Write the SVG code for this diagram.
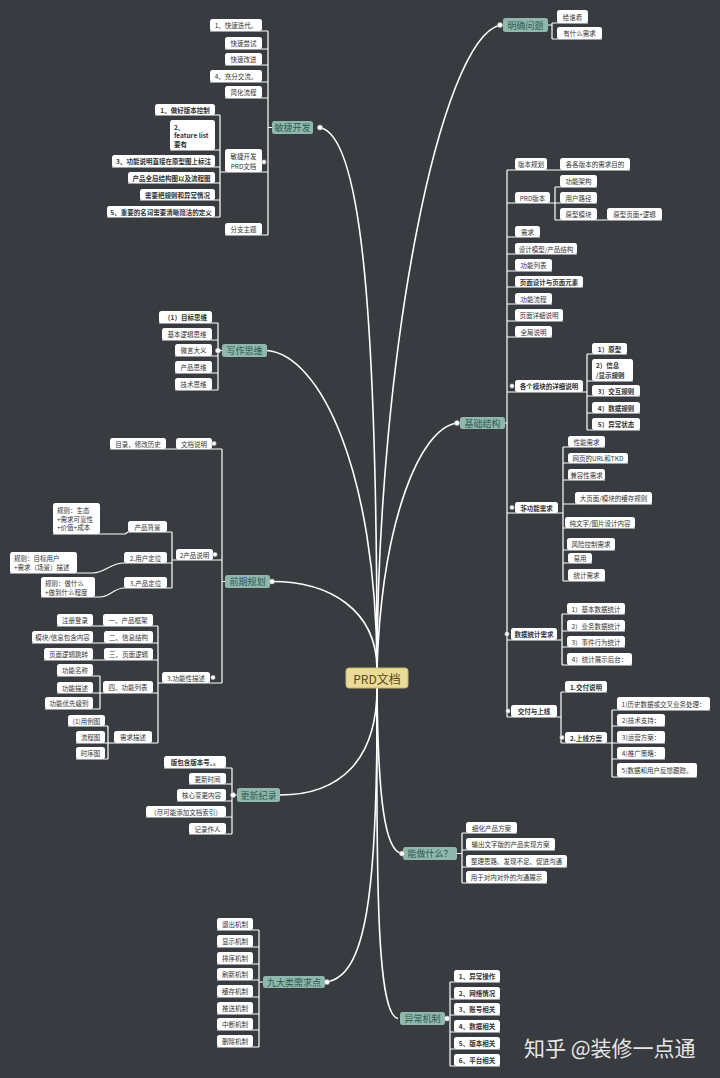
<svg xmlns="http://www.w3.org/2000/svg" width="720" height="1078" viewBox="0 0 720 1078">
<style>
.n rect{fill:#ffffff}
.n text,.m text,.c text{font-family:"Noto Sans CJK SC","Noto Sans",sans-serif;text-anchor:middle;dominant-baseline:central}
.n text{font-size:6.5px;fill:#333333}
.b text{font-weight:bold}
.lt text{text-anchor:start}
.m rect{fill:#8fb7ac}
.m text{font-size:9px;fill:#2f5a53}
.c rect{fill:#eadb9b;stroke:#c9b86a;stroke-width:1}
.c text{font-size:12px;fill:#5a4a12}
.l{fill:none;stroke:#ffffff;stroke-width:1.2;stroke-linejoin:round}
.cl{fill:none;stroke:#ffffff;stroke-width:1.6}
.d{fill:#ffffff;stroke:#9a9a9a;stroke-width:0.6}
.wm{font-family:"Noto Sans CJK SC","Noto Sans",sans-serif;font-size:21px;fill:#e6e6e6}
</style>
<rect width="720" height="1078" fill="#383b40"/>
<g id="connectors">
<path class="cl" d="M377,668 C378,350 440,40 500,25"/>
<path class="cl" d="M377,668 C377,300 360,135 320,127.5"/>
<path class="cl" d="M377,668 C382,520 420,428 457,423"/>
<path class="cl" d="M377,668 C376,470 320,355 267,350.5"/>
<path class="cl" d="M377,668 C376,610 330,581.5 272,581.5"/>
<path class="cl" d="M377,688 C377,760 340,795 280,795"/>
<path class="cl" d="M377,688 C378,800 385,852 402,853.5"/>
<path class="cl" d="M377,688 C378,900 365,975 327,982"/>
<path class="cl" d="M377,688 C376,900 378,1015 398,1018.5"/>
<path class="l" d="M548,25H552 M552,23V39 M552,23H588 M552,39H602"/>
<path class="l" d="M268,127.5H272 M268,31V235 M210,31H268 M225,49H268 M225,65H268 M210,82H268 M225,98H268 M220,172H268 M225,235H268"/>
<path class="l" d="M220,115V217 M155,115H220 M170,150H220 M112,167H220 M128,183H220 M140,200H220 M107,217H220"/>
<path class="l" d="M218,350.5H222 M218,323V390 M159,323H218 M162,340H218 M175,356H218 M175,373H218 M175,390H218"/>
<path class="l" d="M222,581.5H225 M222,449V683 M110,449H222 M172,560H222 M172,532V588 M53,534H125L128,532H172 M10,573H93C105,573 110,563 124,563H172 M41,597H100C110,597 114,588 124,588H172"/>
<path class="l" d="M158,683H222 M158,626V743 M57,626H158 M32,643H158 M44,660H158 M100,693H158 M100,676V709 M57,676H100 M57,693H100 M45,709H100 M108,743H158 M108,726V759 M68,726H108 M76,743H108 M76,759H108"/>
<path class="l" d="M232,795H237 M232,768V834 M164,768H232 M189,784H232 M177,801H232 M146,817H232 M189,834H232"/>
<path class="l" d="M457,853.5H462 M462,833V883 M462,833H517 M462,850H555 M462,867H567 M462,883H547"/>
<path class="l" d="M259,982H263 M259,930V1047 M217,930H259 M217,947H259 M217,964H259 M217,980H259 M217,997H259 M217,1014H259 M217,1030H259 M217,1047H259"/>
<path class="l" d="M445,1018.5H450 M450,982V1066 M450,982H500 M450,999H500 M450,1015H500 M450,1032H500 M450,1049H500 M450,1066H500"/>
<path class="l" d="M505,423H507 M507,170V717 M507,170H630 M507,203H555 M555,187V220 M555,187H597 M555,203H597 M555,220H662 M507,237H540 M507,254H577 M507,271H552 M507,287H583 M507,304H552 M507,321H563 M507,337H552"/>
<path class="l" d="M507,392H587 M587,354V430 M587,354H627 M587,381H633 M587,396H640 M587,413H640 M587,430H640"/>
<path class="l" d="M507,513H563 M563,447V581 M563,447H605 M563,463H628 M563,480H605 M563,504H652 M563,528H635 M563,550H615 M563,563H592 M563,581H605"/>
<path class="l" d="M507,640H562 M562,614V665 M562,614H625 M562,631H625 M562,647H625 M562,665H632"/>
<path class="l" d="M507,717H561 M561,692V743 M561,692H607 M561,743H612 M612,710V777 M612,710H710 M612,726H665 M612,743H665 M612,759H665 M612,777H697"/>
</g>
<g id="center" class="c"><rect x="346" y="668" width="62" height="20" rx="3"/><text x="377" y="678">PRD文档</text></g>

<g id="mingque" class="m"><rect x="503" y="18" width="45" height="14" rx="2.5"/><text x="525.5" y="25">明确问题</text></g>
<g id="mq1" class="n"><rect x="557" y="10" width="31" height="13" rx="2.5"/><text x="572.5" y="16.5">给谁看</text></g>
<g id="mq2" class="n"><rect x="557" y="27" width="45" height="12" rx="2.5"/><text x="579.5" y="33">有什么需求</text></g>

<g id="minjie" class="m"><rect x="272" y="121" width="41" height="13" rx="2.5"/><text x="292.5" y="127.5">敏捷开发</text></g>
<g id="mj1" class="n"><rect x="210" y="19" width="52" height="12" rx="2.5"/><text x="236" y="25">1、快速迭代。</text></g>
<g id="mj2" class="n"><rect x="225" y="37" width="37" height="12" rx="2.5"/><text x="243.5" y="43">快速尝试</text></g>
<g id="mj3" class="n"><rect x="225" y="53" width="37" height="12" rx="2.5"/><text x="243.5" y="59">快速改进</text></g>
<g id="mj4" class="n"><rect x="210" y="70" width="52" height="12" rx="2.5"/><text x="236" y="76">4、充分交流。</text></g>
<g id="mj5" class="n"><rect x="225" y="86" width="37" height="12" rx="2.5"/><text x="243.5" y="92">简化流程</text></g>
<g id="mj6" class="n"><rect x="225" y="149" width="37" height="23" rx="2.5"/><text x="243.5" y="155.5">敏捷开发</text><text x="243.5" y="165.5">PRD文档</text></g>
<g id="mj7" class="n"><rect x="225" y="223" width="37" height="12" rx="2.5"/><text x="243.5" y="229">分支主题</text></g>
<g id="mjp1" class="n b"><rect x="155" y="104" width="60" height="11" rx="2.5"/><text x="185" y="109.5">1、做好版本控制</text></g>
<g id="mjp2" class="n b lt"><rect x="170" y="120" width="45" height="30" rx="2.5"/><text x="174" y="126.5">2、</text><text x="174" y="135">feature list</text><text x="174" y="143.5">要有</text></g>
<g id="mjp3" class="n b"><rect x="112" y="155" width="103" height="12" rx="2.5"/><text x="163.5" y="161">3、功能说明直接在原型图上标注</text></g>
<g id="mjp4" class="n b"><rect x="128" y="172" width="87" height="11" rx="2.5"/><text x="171.5" y="177.5">产品全局结构图以及流程图</text></g>
<g id="mjp5" class="n b"><rect x="140" y="189" width="75" height="11" rx="2.5"/><text x="177.5" y="194.5">需要把规则和异常情况</text></g>
<g id="mjp6" class="n b"><rect x="107" y="206" width="108" height="11" rx="2.5"/><text x="161" y="211.5">5、重要的名词需要清晰简洁的定义</text></g>

<g id="xiezuo" class="m"><rect x="222" y="344" width="45" height="13" rx="2.5"/><text x="244.5" y="350.5">写作思维</text></g>
<g id="xz1" class="n b"><rect x="159" y="311" width="53" height="12" rx="2.5"/><text x="185.5" y="317">（1）目标思维</text></g>
<g id="xz2" class="n"><rect x="162" y="328" width="50" height="12" rx="2.5"/><text x="187" y="334">基本逻辑思维</text></g>
<g id="xz3" class="n"><rect x="175" y="344" width="37" height="12" rx="2.5"/><text x="193.5" y="350">微言大义</text></g>
<g id="xz4" class="n"><rect x="175" y="361" width="37" height="12" rx="2.5"/><text x="193.5" y="367">产品思维</text></g>
<g id="xz5" class="n"><rect x="175" y="378" width="37" height="12" rx="2.5"/><text x="193.5" y="384">技术思维</text></g>

<g id="qianqi" class="m"><rect x="225" y="575" width="45" height="13" rx="2.5"/><text x="247.5" y="581.5">前期规划</text></g>
<g id="qq1" class="n"><rect x="176" y="438" width="36" height="11" rx="2.5"/><text x="194" y="443.5">文档说明</text></g>
<g id="qq1a" class="n"><rect x="110" y="438" width="56" height="11" rx="2.5"/><text x="138" y="443.5">目录、修改历史</text></g>
<g id="qq2" class="n"><rect x="176" y="549" width="37" height="11" rx="2.5"/><text x="194.5" y="554.5">2产品说明</text></g>
<g id="qq2a" class="n"><rect x="128" y="521" width="39" height="11" rx="2.5"/><text x="147.5" y="526.5">产品背景</text></g>
<g id="qq2a1" class="n lt"><rect x="53" y="503" width="47" height="31" rx="2.5"/><text x="57" y="510">规则：生态</text><text x="57" y="518.5">+需求可靠性</text><text x="57" y="527">+价值+成本</text></g>
<g id="qq2b" class="n"><rect x="124" y="552" width="43" height="11" rx="2.5"/><text x="145.5" y="557.5">2.用户定位</text></g>
<g id="qq2b1" class="n lt"><rect x="10" y="552" width="67" height="21" rx="2.5"/><text x="14" y="558">规则：目标用户</text><text x="14" y="567">+需求（场景）描述</text></g>
<g id="qq2c" class="n"><rect x="124" y="577" width="43" height="11" rx="2.5"/><text x="145.5" y="582.5">3.产品定位</text></g>
<g id="qq2c1" class="n lt"><rect x="41" y="577" width="54" height="20" rx="2.5"/><text x="45" y="583">规则：做什么</text><text x="45" y="591.5">+做到什么程度</text></g>
<g id="qq3" class="n"><rect x="162" y="672" width="48" height="11" rx="2.5"/><text x="186" y="677.5">3.功能性描述</text></g>
<g id="qq3a" class="n"><rect x="103" y="614" width="50" height="12" rx="2.5"/><text x="128" y="620">一、产品框架</text></g>
<g id="qq3a1" class="n"><rect x="57" y="614" width="36" height="12" rx="2.5"/><text x="75" y="620">注册登录</text></g>
<g id="qq3b" class="n"><rect x="104" y="631" width="49" height="12" rx="2.5"/><text x="128.5" y="637">二、信息结构</text></g>
<g id="qq3b1" class="n"><rect x="32" y="631" width="61" height="12" rx="2.5"/><text x="62.5" y="637">模块/信息包含内容</text></g>
<g id="qq3c" class="n"><rect x="104" y="648" width="49" height="12" rx="2.5"/><text x="128.5" y="654">三、页面逻辑</text></g>
<g id="qq3c1" class="n"><rect x="44" y="648" width="49" height="12" rx="2.5"/><text x="68.5" y="654">页面逻辑跳转</text></g>
<g id="qq3d" class="n"><rect x="103" y="681" width="50" height="12" rx="2.5"/><text x="128" y="687">四、功能列表</text></g>
<g id="qq3d1" class="n"><rect x="57" y="664" width="36" height="12" rx="2.5"/><text x="75" y="670">功能名称</text></g>
<g id="qq3d2" class="n"><rect x="57" y="682" width="36" height="11" rx="2.5"/><text x="75" y="687.5">功能描述</text></g>
<g id="qq3d3" class="n"><rect x="45" y="697" width="48" height="12" rx="2.5"/><text x="69" y="703">功能优先级别</text></g>
<g id="qq3e" class="n"><rect x="114" y="731" width="38" height="12" rx="2.5"/><text x="133" y="737">需求描述</text></g>
<g id="qq3e1" class="n"><rect x="68" y="715" width="37" height="11" rx="2.5"/><text x="86.5" y="720.5">(1)用例图</text></g>
<g id="qq3e2" class="n"><rect x="76" y="731" width="29" height="12" rx="2.5"/><text x="90.5" y="737">流程图</text></g>
<g id="qq3e3" class="n"><rect x="76" y="747" width="29" height="12" rx="2.5"/><text x="90.5" y="753">时序图</text></g>

<g id="gengxin" class="m"><rect x="237" y="788" width="43" height="14" rx="2.5"/><text x="258.5" y="795">更新纪录</text></g>
<g id="gx1" class="n b"><rect x="164" y="756" width="62" height="12" rx="2.5"/><text x="195" y="762">版包含版本号、。</text></g>
<g id="gx2" class="n"><rect x="189" y="773" width="37" height="11" rx="2.5"/><text x="207.5" y="778.5">更新时间</text></g>
<g id="gx3" class="n"><rect x="177" y="789" width="49" height="12" rx="2.5"/><text x="201.5" y="795">核心变更内容</text></g>
<g id="gx4" class="n"><rect x="146" y="806" width="80" height="11" rx="2.5"/><text x="186" y="811.5">（尽可能添加文档索引）</text></g>
<g id="gx5" class="n"><rect x="189" y="823" width="37" height="11" rx="2.5"/><text x="207.5" y="828.5">记录作人</text></g>

<g id="nengzuo" class="m"><rect x="403" y="847" width="54" height="13" rx="2.5"/><text x="430" y="853.5">能做什么？</text></g>
<g id="nz1" class="n"><rect x="466" y="822" width="51" height="11" rx="2.5"/><text x="491.5" y="827.5">细化产品方案</text></g>
<g id="nz2" class="n"><rect x="466" y="838" width="89" height="12" rx="2.5"/><text x="510.5" y="844">输出文字版的产品实现方案</text></g>
<g id="nz3" class="n"><rect x="466" y="855" width="101" height="12" rx="2.5"/><text x="516.5" y="861">整理思路、发现不足、促进沟通</text></g>
<g id="nz4" class="n"><rect x="466" y="871" width="81" height="12" rx="2.5"/><text x="506.5" y="877">用于对内对外的沟通展示</text></g>

<g id="jiuda" class="m"><rect x="263" y="976" width="62" height="12" rx="2.5"/><text x="294" y="982">九大类需求点</text></g>
<g id="jd1" class="n"><rect x="217" y="918" width="36" height="12" rx="2.5"/><text x="235" y="924">退出机制</text></g>
<g id="jd2" class="n"><rect x="217" y="935" width="36" height="12" rx="2.5"/><text x="235" y="941">显示机制</text></g>
<g id="jd3" class="n"><rect x="217" y="952" width="36" height="12" rx="2.5"/><text x="235" y="958">排序机制</text></g>
<g id="jd4" class="n"><rect x="217" y="968" width="36" height="12" rx="2.5"/><text x="235" y="974">刷新机制</text></g>
<g id="jd5" class="n"><rect x="217" y="985" width="36" height="12" rx="2.5"/><text x="235" y="991">缓存机制</text></g>
<g id="jd6" class="n"><rect x="217" y="1002" width="36" height="12" rx="2.5"/><text x="235" y="1008">推送机制</text></g>
<g id="jd7" class="n"><rect x="217" y="1018" width="36" height="12" rx="2.5"/><text x="235" y="1024">中断机制</text></g>
<g id="jd8" class="n"><rect x="217" y="1035" width="36" height="12" rx="2.5"/><text x="235" y="1041">删除机制</text></g>

<g id="yichang" class="m"><rect x="400" y="1012" width="45" height="13" rx="2.5"/><text x="422.5" y="1018.5">异常机制</text></g>
<g id="yc1" class="n b"><rect x="454" y="970" width="46" height="12" rx="2.5"/><text x="477" y="976">1、异常操作</text></g>
<g id="yc2" class="n b"><rect x="454" y="987" width="46" height="12" rx="2.5"/><text x="477" y="993">2、网络情况</text></g>
<g id="yc3" class="n b"><rect x="454" y="1003" width="46" height="12" rx="2.5"/><text x="477" y="1009">3、账号相关</text></g>
<g id="yc4" class="n b"><rect x="454" y="1020" width="46" height="12" rx="2.5"/><text x="477" y="1026">4、数据相关</text></g>
<g id="yc5" class="n b"><rect x="454" y="1037" width="46" height="12" rx="2.5"/><text x="477" y="1043">5、版本相关</text></g>
<g id="yc6" class="n b"><rect x="454" y="1054" width="46" height="12" rx="2.5"/><text x="477" y="1060">6、平台相关</text></g>

<g id="jichu" class="m"><rect x="460" y="417" width="45" height="12" rx="2.5"/><text x="482.5" y="423">基础结构</text></g>
<g id="jc1" class="n"><rect x="515" y="158" width="32" height="12" rx="2.5"/><text x="531" y="164">版本规划</text></g>
<g id="jc1a" class="n"><rect x="560" y="158" width="70" height="12" rx="2.5"/><text x="595" y="164">各各版本的需求目的</text></g>
<g id="jc2" class="n"><rect x="515" y="192" width="35" height="11" rx="2.5"/><text x="532.5" y="197.5">PRD版本</text></g>
<g id="jc2a" class="n"><rect x="560" y="175" width="37" height="12" rx="2.5"/><text x="578.5" y="181">功能架构</text></g>
<g id="jc2b" class="n"><rect x="560" y="192" width="37" height="11" rx="2.5"/><text x="578.5" y="197.5">用户路径</text></g>
<g id="jc2c" class="n"><rect x="560" y="208" width="37" height="12" rx="2.5"/><text x="578.5" y="214">原型模块</text></g>
<g id="jc2c1" class="n"><rect x="607" y="208" width="55" height="12" rx="2.5"/><text x="634.5" y="214">原型页面+逻辑</text></g>
<g id="jc3" class="n"><rect x="515" y="226" width="25" height="11" rx="2.5"/><text x="527.5" y="231.5">需求</text></g>
<g id="jc4" class="n"><rect x="515" y="243" width="62" height="11" rx="2.5"/><text x="546" y="248.5">设计模型/产品结构</text></g>
<g id="jc5" class="n"><rect x="515" y="259" width="37" height="12" rx="2.5"/><text x="533.5" y="265">功能列表</text></g>
<g id="jc6" class="n b"><rect x="515" y="276" width="68" height="11" rx="2.5"/><text x="549" y="281.5">页面设计与页面元素</text></g>
<g id="jc7" class="n"><rect x="515" y="293" width="37" height="11" rx="2.5"/><text x="533.5" y="298.5">功能流程</text></g>
<g id="jc8" class="n"><rect x="515" y="309" width="48" height="12" rx="2.5"/><text x="539" y="315">页面详细说明</text></g>
<g id="jc9" class="n"><rect x="515" y="326" width="37" height="11" rx="2.5"/><text x="533.5" y="331.5">全局说明</text></g>
<g id="jc10" class="n b"><rect x="515" y="380" width="68" height="12" rx="2.5"/><text x="549" y="386">各个模块的详细说明</text></g>
<g id="jc10a" class="n b"><rect x="592" y="343" width="35" height="11" rx="2.5"/><text x="609.5" y="348.5">1）原型</text></g>
<g id="jc10b" class="n b lt"><rect x="592" y="359" width="41" height="22" rx="2.5"/><text x="596" y="365">2）信息</text><text x="596" y="374.5">/显示规则</text></g>
<g id="jc10c" class="n b"><rect x="592" y="385" width="48" height="11" rx="2.5"/><text x="616" y="390.5">3）交互规则</text></g>
<g id="jc10d" class="n b"><rect x="592" y="402" width="48" height="11" rx="2.5"/><text x="616" y="407.5">4）数据规则</text></g>
<g id="jc10e" class="n b"><rect x="592" y="418" width="48" height="12" rx="2.5"/><text x="616" y="424">5）异常状态</text></g>
<g id="jc11" class="n b"><rect x="515" y="502" width="43" height="11" rx="2.5"/><text x="536.5" y="507.5">非功能需求</text></g>
<g id="jc11a" class="n"><rect x="568" y="436" width="37" height="11" rx="2.5"/><text x="586.5" y="441.5">性能需求</text></g>
<g id="jc11b" class="n"><rect x="568" y="453" width="60" height="10" rx="2.5"/><text x="598" y="458">网页的URL和TKD</text></g>
<g id="jc11c" class="n"><rect x="568" y="469" width="37" height="11" rx="2.5"/><text x="586.5" y="474.5">兼容性需求</text></g>
<g id="jc11d" class="n"><rect x="575" y="492" width="77" height="12" rx="2.5"/><text x="613.5" y="498">大页面/模块的缓存规则</text></g>
<g id="jc11e" class="n"><rect x="565" y="517" width="70" height="11" rx="2.5"/><text x="600" y="522.5">纯文字/图片设计内容</text></g>
<g id="jc11f" class="n"><rect x="567" y="538" width="48" height="12" rx="2.5"/><text x="591" y="544">风险控制需求</text></g>
<g id="jc11g" class="n"><rect x="568" y="553" width="24" height="10" rx="2.5"/><text x="580" y="558">易用</text></g>
<g id="jc11h" class="n"><rect x="568" y="569" width="37" height="12" rx="2.5"/><text x="586.5" y="575">统计需求</text></g>
<g id="jc12" class="n b"><rect x="511" y="628" width="46" height="12" rx="2.5"/><text x="534" y="634">数据统计需求</text></g>
<g id="jc12a" class="n"><rect x="567" y="603" width="58" height="11" rx="2.5"/><text x="596" y="608.5">1）基本数据统计</text></g>
<g id="jc12b" class="n"><rect x="567" y="620" width="58" height="11" rx="2.5"/><text x="596" y="625.5">2）业务数据统计</text></g>
<g id="jc12c" class="n"><rect x="567" y="636" width="58" height="11" rx="2.5"/><text x="596" y="641.5">3）事件行为统计</text></g>
<g id="jc12d" class="n"><rect x="567" y="653" width="65" height="12" rx="2.5"/><text x="599.5" y="659">4）统计展示后台：</text></g>
<g id="jc13" class="n b"><rect x="511" y="705" width="46" height="12" rx="2.5"/><text x="534" y="711">交付与上线</text></g>
<g id="jc13a" class="n b"><rect x="565" y="681" width="42" height="11" rx="2.5"/><text x="586" y="686.5">1.交付说明</text></g>
<g id="jc13b" class="n b"><rect x="565" y="732" width="42" height="11" rx="2.5"/><text x="586" y="737.5">2.上线方案</text></g>
<g id="jc13b1" class="n"><rect x="617" y="697" width="93" height="13" rx="2.5"/><text x="663.5" y="703.5">1)历史数据或交叉业务处理：</text></g>
<g id="jc13b2" class="n"><rect x="617" y="714" width="48" height="12" rx="2.5"/><text x="641" y="720">2)技术支持：</text></g>
<g id="jc13b3" class="n"><rect x="617" y="731" width="48" height="12" rx="2.5"/><text x="641" y="737">3)运营方案：</text></g>
<g id="jc13b4" class="n"><rect x="617" y="747" width="48" height="12" rx="2.5"/><text x="641" y="753">4)推广策略：</text></g>
<g id="jc13b5" class="n"><rect x="617" y="763" width="80" height="14" rx="2.5"/><text x="657" y="770">5)数据和用户反馈跟踪。</text></g>

<g id="toggles">
<circle class="d" cx="500" cy="25" r="2.6"/>
<circle class="d" cx="320" cy="127.5" r="2.6"/>
<circle class="d" cx="457" cy="423" r="2.6"/>
<circle class="d" cx="218" cy="350.5" r="2.6"/>
<circle class="d" cx="272" cy="581.5" r="2.6"/>
<circle class="d" cx="233" cy="795" r="2.6"/>
<circle class="d" cx="402" cy="853.5" r="2.6"/>
<circle class="d" cx="327" cy="982" r="2.6"/>
<circle class="d" cx="447" cy="1018.5" r="2.6"/>
<circle class="d" cx="264" cy="162" r="2.2"/>
<circle class="d" cx="512" cy="386" r="2.2"/>
<circle class="d" cx="512" cy="507.5" r="2.2"/>
<circle class="d" cx="507" cy="634" r="2.2"/>
<circle class="d" cx="508" cy="711" r="2.2"/>
<circle class="d" cx="562" cy="737.5" r="2.2"/>
<circle class="d" cx="215" cy="554.5" r="2.2"/>
<circle class="d" cx="214" cy="443.5" r="2.2"/>
<circle class="d" cx="213" cy="677.5" r="2.2"/>
</g>
<text class="wm" x="524" y="1056">知乎 @装修一点通</text>
</svg>
